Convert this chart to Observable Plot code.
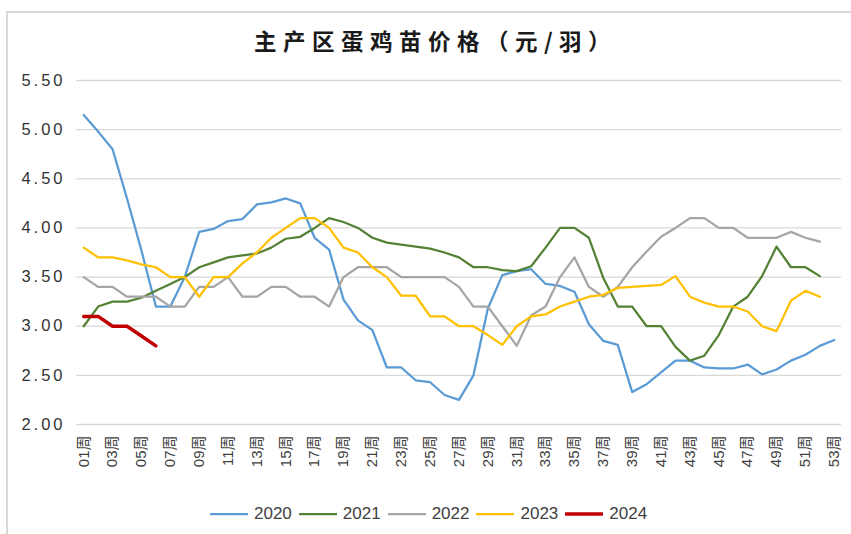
<!DOCTYPE html>
<html>
<head>
<meta charset="utf-8">
<script src="https://cdn.jsdelivr.net/npm/d3@7"></script>
<script src="https://cdn.jsdelivr.net/npm/@observablehq/plot@0.6"></script>
<style>
  html, body { margin: 0; padding: 0; background: #fff; }
  #wrap { position: relative; width: 851px; height: 534px; overflow: hidden; background: #fff;
          font-family: "Liberation Sans", Arial, "Noto Sans CJK SC", sans-serif; }
  #borderTop { position: absolute; left: 6px; top: 11px; width: 845px; height: 2px; background: #d9d9d9; }
  #borderLeft { position: absolute; left: 6px; top: 11px; width: 2px; height: 523px; background: #d9d9d9; }
  #title { position: absolute; left: 0; width: 851px; top: 28px; text-align: center;
           font-family: "Noto Sans CJK SC", sans-serif; font-weight: bold; font-size: 22.5px;
           line-height: 24px; letter-spacing: 6.5px; color: #1a1a1a; padding-left: 10px; }
  #plot { position: absolute; left: 0; top: 60px; }
  #plot g[aria-label="y-axis tick label"] text { letter-spacing: 3px; }
  #legend { position: absolute; top: 502px; left: 210px; height: 24px; display: flex; align-items: center;
            font-size: 17px; color: #404040; }
  .item { display: flex; align-items: center; margin-right: 7px; }
  .item svg { margin-right: 6px; }
</style>
</head>
<body>
<div id="wrap">
  <div id="borderTop"></div>
  <div id="borderLeft"></div>
  <div id="title">主产区蛋鸡苗价格（元/羽）</div>
  <div id="plot"></div>
  <div id="legend"></div>
</div>
<script>
// ---- data ----
const weeks = d3.range(1, 54);                       // 01周 ... 53周
const weekTicks = weeks.filter(w => w % 2 === 1);    // labelled weeks
const yTicks = [2.0, 2.5, 3.0, 3.5, 4.0, 4.5, 5.0, 5.5];
const years = ["2020", "2021", "2022", "2023", "2024"];
const colors = ["#5B9BD5", "#548235", "#A5A5A5", "#FFC000", "#C00000"];

const v2020 = [5.15, 4.98, 4.80, 4.30, 3.77, 3.20, 3.20, 3.50, 3.96, 3.99, 4.07, 4.09, 4.24, 4.26, 4.30, 4.25, 3.90, 3.78,
  3.27, 3.06, 2.96, 2.58, 2.58, 2.45, 2.43, 2.30, 2.25, 2.50, 3.18, 3.52, 3.56, 3.58, 3.43, 3.41, 3.35, 3.02, 2.85, 2.81,
  2.33, 2.41, 2.53, 2.65, 2.65, 2.58, 2.57, 2.57, 2.61, 2.51, 2.56, 2.65, 2.71, 2.80, 2.86];
const v2021 = [3.00, 3.20, 3.25, 3.25, 3.29, 3.36, 3.43, 3.50, 3.60, 3.65, 3.70, 3.72, 3.74, 3.80, 3.89, 3.91, 4.00, 4.10,
  4.06, 4.00, 3.90, 3.85, 3.83, 3.81, 3.79, 3.75, 3.70, 3.60, 3.60, 3.57, 3.56, 3.61, 3.80, 4.00, 4.00, 3.90, 3.49, 3.20,
  3.20, 3.00, 3.00, 2.79, 2.65, 2.70, 2.91, 3.20, 3.30, 3.51, 3.81, 3.60, 3.60, 3.51];
const v2022 = [3.50, 3.40, 3.40, 3.30, 3.30, 3.30, 3.20, 3.20, 3.40, 3.40, 3.50, 3.30, 3.30, 3.40, 3.40, 3.30, 3.30, 3.20,
  3.50, 3.60, 3.60, 3.60, 3.50, 3.50, 3.50, 3.50, 3.40, 3.20, 3.20, 3.00, 2.80, 3.11, 3.20, 3.50, 3.70, 3.40, 3.30, 3.40,
  3.60, 3.76, 3.91, 4.00, 4.10, 4.10, 4.00, 4.00, 3.90, 3.90, 3.90, 3.96, 3.90, 3.86];
const v2023 = [3.80, 3.70, 3.70, 3.67, 3.63, 3.60, 3.50, 3.50, 3.30, 3.50, 3.50, 3.64, 3.75, 3.90, 4.00, 4.10, 4.10, 4.00,
  3.80, 3.75, 3.60, 3.50, 3.31, 3.31, 3.10, 3.10, 3.00, 3.00, 2.91, 2.81, 3.00, 3.10, 3.12, 3.20, 3.25, 3.30, 3.32, 3.39,
  3.40, 3.41, 3.42, 3.51, 3.30, 3.24, 3.20, 3.20, 3.15, 3.00, 2.95, 3.26, 3.36, 3.30];
const v2024 = [3.10, 3.10, 3.00, 3.00, 2.90, 2.80];

const seriesValues = [v2020, v2021, v2022, v2023, v2024];
const strokeWidths = [2.25, 2.25, 2.25, 2.25, 3.5];

const rows = (vals) => vals.map((v, i) => ({week: weeks[i], value: v}));
const fmtWeek = w => String(w).padStart(2, "0") + "周";

const chart = Plot.plot({
  width: 851,
  height: 430,
  marginTop: 20,
  marginBottom: 66,
  marginLeft: 76,
  marginRight: 10,
  style: {fontFamily: '"Liberation Sans", Arial, "Noto Sans CJK SC", sans-serif', background: "transparent", color: "#404040"},
  x: {type: "linear", domain: [0.5, 53.5], label: null},
  y: {domain: [2, 5.5], label: null},
  marks: [
    Plot.gridY(yTicks, {stroke: "#d9d9d9", strokeOpacity: 1, strokeWidth: 1.3}),
    Plot.axisY(yTicks, {tickFormat: d => d.toFixed(2), tickSize: 0, tickPadding: 11, fontSize: 16.5,
      fill: "#333", label: null}),
    Plot.axisX(weekTicks, {tickFormat: fmtWeek, tickRotate: -90, tickSize: 0, tickPadding: 11,
      fontSize: 15, fill: "#404040", label: null}),
    ...seriesValues.map((vals, i) => Plot.line(rows(vals), {
      x: "week", y: "value", stroke: colors[i], strokeWidth: strokeWidths[i], curve: "linear"
    }))
  ]
});
document.getElementById("plot").appendChild(chart);

// ---- legend ----
const legend = document.getElementById("legend");
years.forEach((yr, i) => {
  const item = document.createElement("div");
  item.className = "item";
  item.innerHTML = `<svg width="38" height="8"><line x1="0" x2="38" y1="4" y2="4" stroke="${colors[i]}" stroke-width="${strokeWidths[i]}"/></svg><span>${yr}</span>`;
  legend.appendChild(item);
});
</script>
</body>
</html>
